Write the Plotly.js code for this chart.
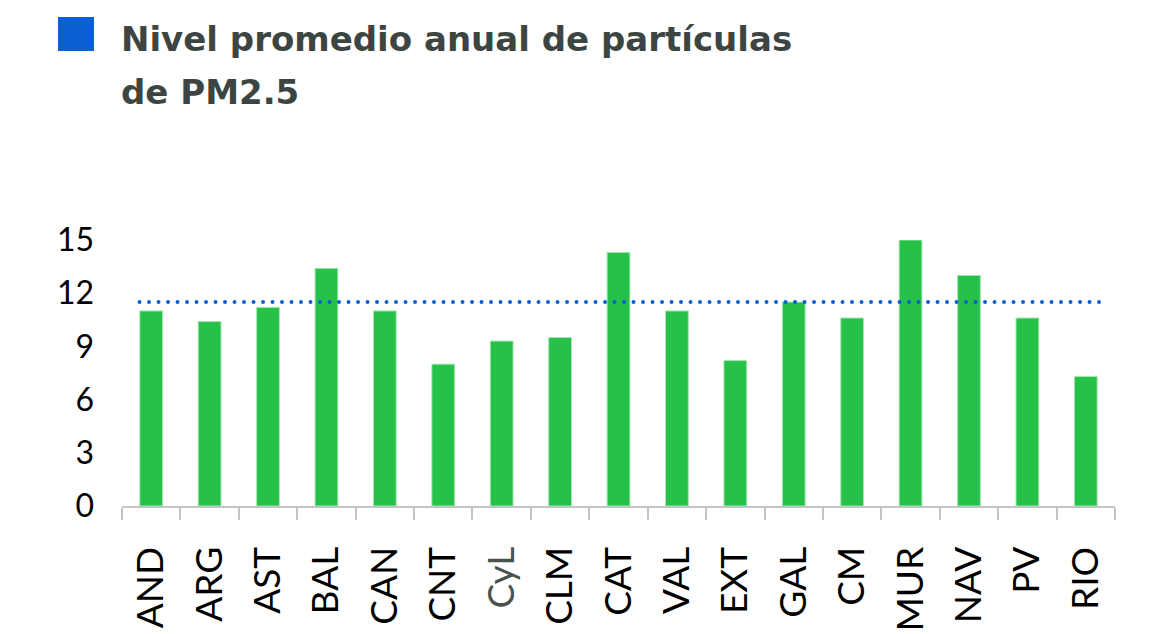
<!DOCTYPE html>
<html>
<head>
<meta charset="utf-8">
<script src="https://cdn.plot.ly/plotly-3.0.1.min.js"></script>
<style>
  html, body { margin: 0; padding: 0; background: #fff; }
  #chart { width: 1173px; height: 634px; }
  .shapelayer path { stroke-linecap: round; }
</style>
</head>
<body>
<div id="chart"></div>
<script>
const regions = ["AND","ARG","AST","BAL","CAN","CNT","CyL","CLM","CAT","VAL","EXT","GAL","CM","MUR","NAV","PV","RIO"];
const pm25 = [11.0,10.4,11.2,13.4,11.0,8.0,9.3,9.5,14.3,11.0,8.2,11.5,10.6,15.0,13.0,10.6,7.3];
const referenceLevel = 11.5;
const yTicks = [0,3,6,9,12,15];
const titleLines = ["Nivel promedio anual de partículas", "de PM2.5"];

const tickText = regions.map(r => r === "CyL" ? '<span style="color:#4a524f">' + r + '</span>' : r);

// pixel helpers for the plot area (t=240, b=128 -> bottom at 506, height 266; l=122, width 993)
const PT = 240, PH = 266, PL = 122, PW = 993;
const py = p => (PT + PH - p) / PH;
const px = p => (p - PL) / PW;

const trace = {
  type: "bar",
  x: regions,
  y: pm25,
  marker: { color: "#25c149", line: { color: "#a6e6b4", width: 1 } },
  hoverinfo: "x+y"
};

const titleFont = { family: "'DejaVu Sans', sans-serif", size: 34, color: "#3d4542", weight: "bold" };

const layout = {
  width: 1173,
  height: 634,
  margin: { l: PL, r: 1173 - PL - PW, t: PT, b: 634 - PT - PH },
  paper_bgcolor: "#ffffff",
  plot_bgcolor: "#ffffff",
  showlegend: false,
  bargap: 0.61,
  font: { family: "Lato, 'Open Sans', sans-serif", color: "#000000" },
  annotations: [
    {
      text: titleLines[0], xref: "paper", yref: "paper",
      x: px(119), y: py(39), xanchor: "left", yanchor: "middle",
      showarrow: false, font: titleFont
    },
    {
      text: titleLines[1], xref: "paper", yref: "paper",
      x: px(119), y: py(92), xanchor: "left", yanchor: "middle",
      showarrow: false, font: titleFont
    }
  ],
  xaxis: {
    type: "category",
    tickvals: regions,
    ticktext: tickText,
    tickangle: -90,
    tickfont: { size: 37, color: "#000000", family: "Lato, sans-serif" },
    showline: true,
    linecolor: "#c4c4c4",
    linewidth: 2,
    ticks: "outside",
    tickson: "boundaries",
    ticklen: 12,
    tickcolor: "#c4c4c4",
    tickwidth: 2,
    ticklabelstandoff: 24,
    showgrid: false,
    zeroline: false,
    fixedrange: true
  },
  yaxis: {
    range: [0, 15],
    tickvals: yTicks,
    ticktext: yTicks.map(String),
    tickfont: { size: 32, color: "#000000", family: "Lato, sans-serif" },
    showline: false,
    showgrid: false,
    zeroline: false,
    ticks: "",
    ticklabelstandoff: 27,
    fixedrange: true
  },
  shapes: [
    {
      type: "rect",
      xref: "paper", yref: "paper",
      x0: px(58), x1: px(94),
      y0: py(51), y1: py(17),
      fillcolor: "#0b5fd0",
      line: { width: 0 }
    },
    {
      type: "line",
      xref: "x", yref: "y",
      x0: -0.2, x1: 16.3,
      y0: referenceLevel, y1: referenceLevel,
      line: { color: "#0b5fd0", width: 4, dash: "0px,9.5px" },
      layer: "above"
    }
  ]
};

Plotly.newPlot("chart", [trace], layout, { displayModeBar: false, staticPlot: true });
</script>
</body>
</html>
